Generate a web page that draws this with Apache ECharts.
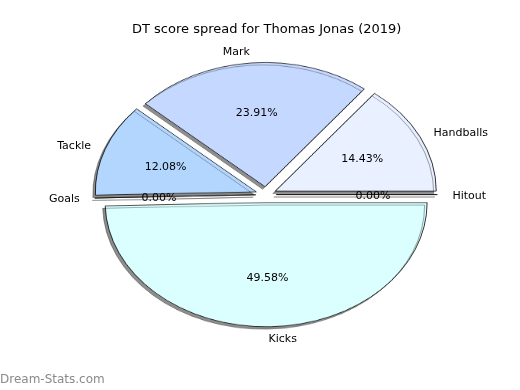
<!DOCTYPE html>
<html>
<head>
<meta charset="utf-8">
<script src="https://cdn.jsdelivr.net/npm/echarts@6/dist/echarts.min.js"></script>
<style>
  html, body { margin: 0; padding: 0; background: #fff; }
  #wrap { position: relative; width: 520px; height: 390px; overflow: hidden; }
  #pie, #txt { position: absolute; left: 0; top: 0; width: 520px; height: 390px; }
  #pie { transform: scaleY(0.7714); transform-origin: 0 194.6px; }
</style>
</head>
<body>
<div id="wrap"><div id="pie"></div><div id="txt"></div></div>
<script>
// ---- data ----
const categories = ['Handballs', 'Mark', 'Tackle', 'Goals', 'Kicks', 'Hitout'];
const shares = [14.43, 23.91, 12.08, 0.00, 49.58, 0.00];
const sliceColors = ['#e9f0ff', '#c5d8ff', '#b3d6ff', '#9fd0ff', '#dbffff', '#f0f8ff'];
const titleText = 'DT score spread for Thomas Jonas (2019)';
const watermark = 'Dream-Stats.com';

// ---- geometry (matplotlib-like elliptical pie) ----
const CX = 266, CY = 194.6, R = 161, K = 0.7714, EXPLODE = 10.3;
const FONT = 'DejaVu Sans';

const pieData = categories.map((c, i) => ({
  name: c, value: shares[i], selected: true,
  itemStyle: { color: sliceColors[i] }
}));

const pieChart = echarts.init(document.getElementById('pie'), null, { renderer: 'canvas' });
const sectorStyle = {
  borderColor: '#000', borderWidth: 0.8,
  shadowColor: 'rgba(30,30,30,0.5)', shadowBlur: 0,
  shadowOffsetX: -2.5, shadowOffsetY: 3.2
};
pieChart.setOption({
  animation: false,
  series: [{
    type: 'pie', center: [CX, CY], radius: R,
    startAngle: 0, clockwise: false,
    selectedMode: 'multiple', selectedOffset: EXPLODE,
    avoidLabelOverlap: false, silent: true,
    label: { show: false }, labelLine: { show: false },
    itemStyle: sectorStyle,
    select: { itemStyle: sectorStyle },
    emphasis: { disabled: true },
    data: pieData
  }]
});

// ---- text layer ----
function squash(p) {
  const r = p.labelRect;
  const yc = r.y + r.height / 2;
  return { y: CY + (yc - CY) * K + 1.1, verticalAlign: 'middle' };
}
const txtData = categories.map((c, i) => ({ name: c, value: shares[i] }));
const txtChart = echarts.init(document.getElementById('txt'), null, { renderer: 'canvas' });
txtChart.setOption({
  animation: false,
  backgroundColor: 'transparent',
  title: [
    { text: titleText, left: 132, top: 23, padding: 0,
      textStyle: { fontFamily: FONT, fontSize: 13, fontWeight: 'normal', color: '#000' } },
    { text: watermark, left: 0, top: 374, padding: 0,
      textStyle: { fontFamily: FONT, fontSize: 12, fontWeight: 'normal', color: '#8a8a8a' } }
  ],
  series: [
    {
      type: 'pie', center: [CX, CY], radius: R,
      startAngle: 0, clockwise: false, avoidLabelOverlap: false, silent: true,
      itemStyle: { color: 'transparent', borderWidth: 0 },
      emphasis: { disabled: true },
      label: { show: true, position: 'outside', formatter: '{b}', distanceToLabelLine: 0,
        fontFamily: FONT, fontSize: 11, color: '#000' },
      labelLine: { show: false, length: 0.1 * R + EXPLODE - 1, length2: 0 },
      labelLayout: squash,
      data: txtData
    },
    {
      type: 'pie', center: [CX, CY], radius: 208,
      startAngle: 0, clockwise: false, avoidLabelOverlap: false, silent: true,
      itemStyle: { color: 'transparent', borderWidth: 0 },
      emphasis: { disabled: true },
      label: { show: true, position: 'inner',
        formatter: p => p.value.toFixed(2) + '%',
        fontFamily: FONT, fontSize: 11, color: '#000' },
      labelLine: { show: false },
      labelLayout: squash,
      data: txtData
    }
  ]
});
</script>
</body>
</html>
